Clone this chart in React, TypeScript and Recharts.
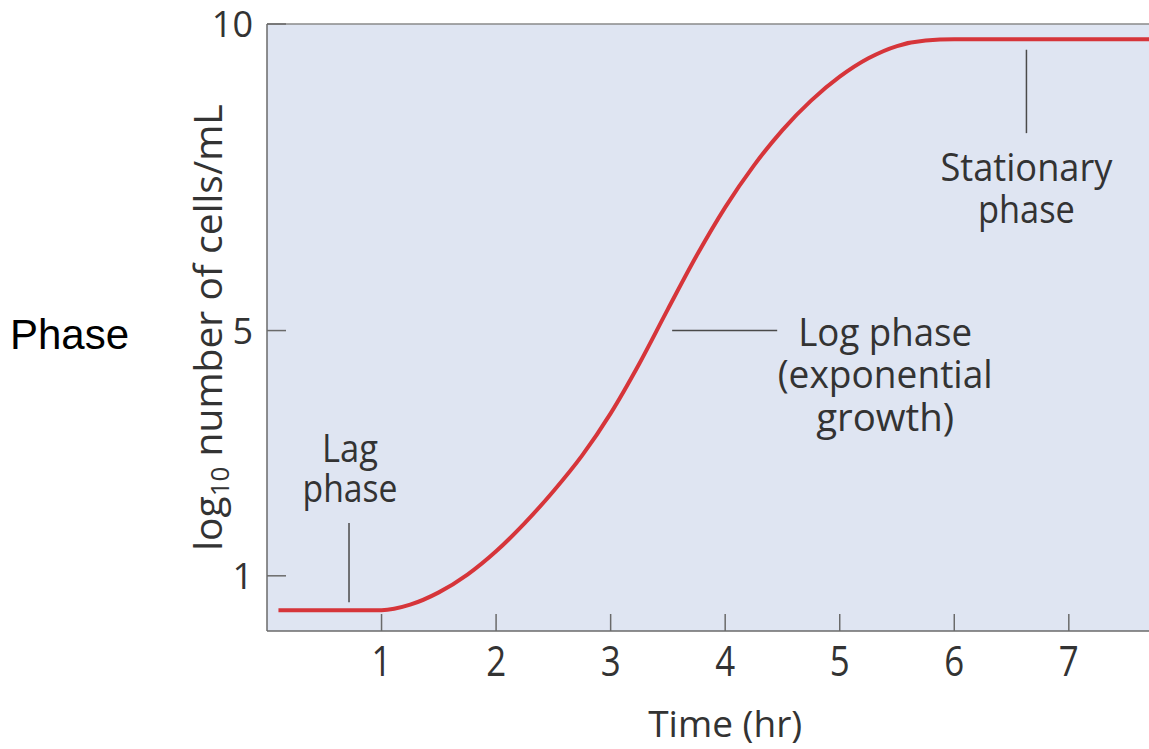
import React from 'react';
import {
  ComposedChart,
  Line,
  XAxis,
  YAxis,
  CartesianGrid,
  ReferenceLine,
  ReferenceDot,
} from 'recharts';

// ---- data ----
const hours = [0.1, 0.5, 0.9, 1.0, 1.25, 1.5, 1.75, 2.0, 2.25, 2.5, 2.75, 3.0, 3.25, 3.5, 3.75, 4.0, 4.25, 4.5, 4.75, 5.0, 5.25, 5.5, 5.75, 6.0, 7.7];
const logCells = [0.44, 0.44, 0.44, 0.44, 0.53, 0.73, 1.02, 1.4, 1.86, 2.38, 2.96, 3.65, 4.46, 5.35, 6.22, 7.01, 7.69, 8.27, 8.75, 9.14, 9.44, 9.64, 9.73, 9.75, 9.75];
const xTicks = [1, 2, 3, 4, 5, 6, 7];
const yTicks = [1, 5, 10];
const xDomain = [0, 7.7];
const yDomain = [0.1, 10];

const lagLines = ['Lag', 'phase'];
const logLines = ['Log phase', '(exponential', 'growth)'];
const statLines = ['Stationary', 'phase'];

const data = hours.map((h, i) => ({ hour: h, cells: logCells[i] }));

const FONT = '"Open Sans", "Noto Sans", sans-serif';
const TEXT = '#333333';
const AXIS = '#6a6a6a';
const LEADER = '#4a4a4a';

const XTick = (props: any) => {
  const { x, y, payload } = props;
  return (
    <g>
      <line x1={x} x2={x} y1={y - 17} y2={y} stroke={AXIS} strokeWidth={1.5} />
      <text
        transform={`translate(${x},${y + 45}) scale(0.83,1)`}
        textAnchor="middle"
        fontSize={42}
        fill={TEXT}
        fontFamily={FONT}
      >
        {payload.value}
      </text>
    </g>
  );
};

const YTick = (props: any) => {
  const { x, y, payload } = props;
  return (
    <g>
      <line x1={x} x2={x + 19} y1={y} y2={y} stroke={AXIS} strokeWidth={1.5} />
      <text x={x - 14} y={y + 13} textAnchor="end" fontSize={36} fill={TEXT} fontFamily={FONT}>
        {payload.value}
      </text>
    </g>
  );
};

const makeBlock = (lines: string[], widths: number[], gap: number) => (p: any) => {
  const { cx, cy } = p;
  return (
    <g>
      {lines.map((t, i) => (
        <text
          key={i}
          x={cx}
          y={cy + i * gap}
          textAnchor="middle"
          fontSize={38}
          fill={TEXT}
          fontFamily={FONT}
          textLength={widths[i]}
          lengthAdjust="spacingAndGlyphs"
        >
          {t}
        </text>
      ))}
    </g>
  );
};

const YLabel = (props: any) => {
  const vb = props.viewBox || {};
  const cx = vb.x + vb.width - 45;
  const cy = vb.y + vb.height / 2;
  return (
    <text
      transform={`translate(${cx},${cy}) rotate(-90)`}
      textAnchor="middle"
      fontSize={39}
      fill={TEXT}
      fontFamily={FONT}
    >
      <tspan>log</tspan>
      <tspan fontSize={26} dy={7}>10</tspan>
      <tspan dy={-7}> number of cells/mL</tspan>
    </text>
  );
};

const XLabel = (props: any) => {
  const vb = props.viewBox || {};
  const cx = vb.x + (vb.width * 4) / 7.7;
  return (
    <text x={cx} y={vb.y + 106} textAnchor="middle" fontSize={37} fill={TEXT} fontFamily={FONT}>
      Time (hr)
    </text>
  );
};

export default function App() {
  return (
    <div style={{ position: 'absolute', left: 0, top: 0, width: 1149, height: 749, background: '#fff' }}>
      <svg width={200} height={749} style={{ position: 'absolute', left: 0, top: 0 }}>
        <text x={10} y={349} fontSize={42} fontFamily='"Liberation Sans", Arial, sans-serif' fill="#000">
          Phase
        </text>
      </svg>
      <div style={{ position: 'absolute', left: 0, top: 0 }}>
        <ComposedChart
          width={1149}
          height={749}
          data={data}
          margin={{ top: 24, right: 0, left: 167, bottom: 58 }}
        >
          <CartesianGrid fill="#dfe5f2" fillOpacity={1} horizontal={false} vertical={false} />
          <XAxis
            dataKey="hour"
            type="number"
            domain={xDomain}
            ticks={xTicks}
            allowDataOverflow
            height={60}
            tickSize={0}
            tickMargin={0}
            tickLine={false}
            axisLine={{ stroke: AXIS, strokeWidth: 1.5 }}
            tick={<XTick />}
            label={<XLabel />}
            interval={0}
          />
          <YAxis
            type="number"
            domain={yDomain}
            ticks={yTicks}
            allowDataOverflow
            width={100}
            tickSize={0}
            tickMargin={0}
            tickLine={false}
            axisLine={{ stroke: AXIS, strokeWidth: 1.5 }}
            tick={<YTick />}
            label={<YLabel />}
            interval={0}
          />
          <ReferenceLine y={10} stroke="#8a8a8a" strokeWidth={1.5} />
          <ReferenceLine segment={[{ x: 0.716, y: 1.86 }, { x: 0.716, y: 0.57 }]} stroke={LEADER} strokeWidth={1.5} />
          <ReferenceLine segment={[{ x: 3.537, y: 5.0 }, { x: 4.454, y: 5.0 }]} stroke={LEADER} strokeWidth={1.5} />
          <ReferenceLine segment={[{ x: 6.63, y: 9.58 }, { x: 6.63, y: 8.22 }]} stroke={LEADER} strokeWidth={1.5} />
          <ReferenceDot x={0.725} y={2.86} r={0} ifOverflow="visible" shape={makeBlock(lagLines, [56, 95], 40)} />
          <ReferenceDot x={5.397} y={4.75} r={0} ifOverflow="visible" shape={makeBlock(logLines, [174, 215, 138], 42.5)} />
          <ReferenceDot x={6.63} y={7.44} r={0} ifOverflow="visible" shape={makeBlock(statLines, [172, 97], 42)} />
          <Line
            type="monotone"
            dataKey="cells"
            stroke="#d6353a"
            strokeWidth={4}
            dot={false}
            activeDot={false}
            isAnimationActive={false}
          />
        </ComposedChart>
      </div>
    </div>
  );
}
